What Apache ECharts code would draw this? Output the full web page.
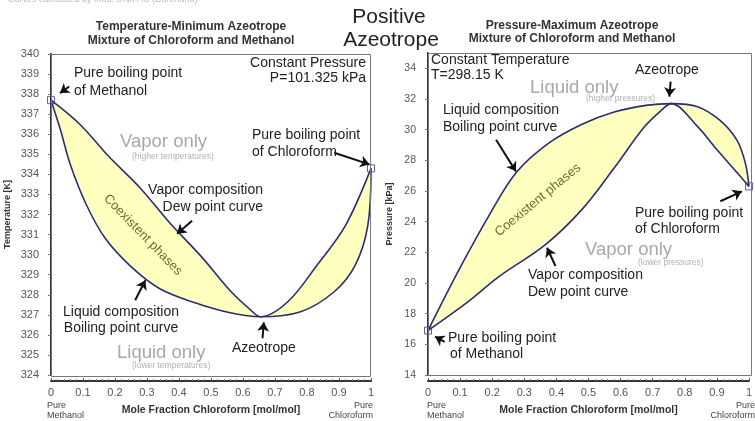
<!DOCTYPE html>
<html>
<head>
<meta charset="utf-8">
<script src="https://cdn.jsdelivr.net/npm/echarts@6/dist/echarts.min.js"></script>
<style>
  html, body { margin: 0; padding: 0; background: #fff; }
  #main { width: 755px; height: 421px; }
</style>
</head>
<body>
<div id="main"></div>
<script>
// left chart: T-x-y at constant pressure (temperature minimum azeotrope)
var dewX1 = [0, 0.09, 0.18, 0.28, 0.37, 0.47, 0.56, 0.62, 0.655, 0.74, 0.83, 0.92, 1.0];
var dewT1 = [337.7, 336.5, 334.9, 333.3, 331.6, 329.9, 328.2, 327.3, 326.9, 327.65, 329.45, 331.45, 334.3];
var bubX1 = [0, 0.03, 0.06, 0.11, 0.17, 0.25, 0.34, 0.45, 0.56, 0.655, 0.78, 0.885, 0.95, 0.99, 1.0];
var bubT1 = [337.7, 336.2, 334.5, 332.5, 330.8, 329.4, 328.3, 327.6, 327.1, 326.9, 327.15, 328.15, 329.45, 331.45, 334.3];
var pureX1 = [0, 1];
var pureT1 = [337.7, 334.3];

// right chart: P-x-y at constant temperature (pressure maximum azeotrope)
var bubX2 = [0, 0.1, 0.19, 0.275, 0.375, 0.48, 0.58, 0.685, 0.757, 0.84, 0.91, 0.963, 0.989, 1.0];
var bubP2 = [16.9, 21.0, 24.4, 27.2, 29.1, 30.35, 31.15, 31.6, 31.7, 31.5, 30.6, 29.3, 27.8, 26.3];
var dewX2 = [0, 0.12, 0.22, 0.366, 0.48, 0.58, 0.675, 0.737, 0.757, 0.84, 0.9, 0.963, 1.0];
var dewP2 = [16.9, 18.7, 20.4, 22.5, 24.8, 27.5, 30.2, 31.45, 31.7, 30.2, 28.7, 27.2, 26.3];
var pureX2 = [0, 1];
var pureP2 = [16.9, 26.3];

// axis ranges
var tRange = [324, 340, 1];
var pRange = [14, 35, 2];

// arrows [tail, tip] in data units
var arrowsLeft = [
  [[0.057, 338.38], [0.028, 338.05]],
  [[0.885, 335.08], [0.995, 334.5]],
  [[0.441, 331.69], [0.394, 331.04]],
  [[0.263, 327.73], [0.295, 328.72]],
  [[0.661, 325.83], [0.665, 326.63]]
];
var arrowsRight = [
  [[0.756, 33.13], [0.752, 32.16]],
  [[0.212, 29.34], [0.274, 27.28]],
  [[0.911, 25.33], [0.978, 25.98]],
  [[0.397, 21.11], [0.371, 22.30]],
  [[0.052, 16.16], [0.022, 16.51]]
];

var FONT = '"Liberation Sans", Arial, sans-serif';
var LINE = '#2b2d73';
var FILL = '#ffffc0';
var SMOOTH = 0.35;

function pairs(xs, ys) {
  return xs.map(function (x, i) { return [x, ys[i]]; });
}

function xAxisCfg(idx) {
  return {
    type: 'value', gridIndex: idx, min: 0, max: 1, interval: 0.1, offset: 6,
    name: 'Mole Fraction Chloroform [mol/mol]', nameLocation: 'middle', nameGap: 24,
    nameTextStyle: { fontFamily: FONT, fontWeight: 'bold', fontSize: 10.5, color: '#333' },
    axisLine: { show: true, lineStyle: { color: '#333', width: 2 } },
    axisTick: { show: true, inside: true, length: 3, lineStyle: { color: '#555' } },
    minorTick: { show: true, splitNumber: 5, length: 2, lineStyle: { color: '#777' } },
    axisLabel: { fontFamily: FONT, fontSize: 11, color: '#555', margin: 6 },
    splitLine: { show: false }
  };
}

function yAxisCfg(idx, r, name, gap, fs) {
  return {
    type: 'value', gridIndex: idx, min: r[0], max: r[1], interval: r[2], offset: 7,
    name: name, nameLocation: 'middle', nameGap: gap, nameRotate: 90,
    nameTextStyle: { fontFamily: FONT, fontWeight: 'bold', fontSize: 9, color: '#333' },
    axisLine: { show: true, lineStyle: { color: '#333', width: 2 } },
    axisTick: { show: true, length: 3, lineStyle: { color: '#777' } },
    axisLabel: { fontFamily: FONT, fontSize: fs, color: '#555', margin: 5, showMaxLabel: idx === 0 },
    splitLine: { show: false }
  };
}

function area(idx, data, color) {
  return {
    type: 'line', xAxisIndex: idx, yAxisIndex: idx, data: data,
    smooth: SMOOTH, symbol: 'none', silent: true, z: 1,
    lineStyle: { opacity: 0 },
    areaStyle: { color: color, opacity: 1, origin: 'start' }
  };
}

function curve(idx, data) {
  return {
    type: 'line', xAxisIndex: idx, yAxisIndex: idx, data: data,
    smooth: SMOOTH, symbol: 'none', silent: true, z: 3,
    lineStyle: { color: LINE, width: 1.6 }
  };
}

function ends(idx, data, arrows) {
  return {
    type: 'scatter', xAxisIndex: idx, yAxisIndex: idx, data: data,
    symbol: 'rect', symbolSize: 7, z: 4, silent: true, clip: false,
    itemStyle: { color: 'rgba(0,0,0,0)', borderColor: '#3535a0', borderWidth: 1 },
    markLine: {
      silent: true, symbol: ['none', 'arrow'], symbolSize: 9,
      lineStyle: { color: '#111', width: 2, type: 'solid' },
      label: { show: false },
      data: arrows.map(function (a) { return [{ coord: a[0] }, { coord: a[1] }]; })
    }
  };
}

function txt(x, y, s, o) {
  o = o || {};
  return {
    type: 'text', x: x, y: y, rotation: o.rot || 0, z: 50, silent: true,
    style: {
      text: s, fill: o.color || '#222',
      font: (o.bold ? 'bold ' : '') + (o.size || 14) + 'px ' + FONT,
      textAlign: o.align || 'left', align: o.align || 'left',
      textVerticalAlign: 'middle', verticalAlign: 'middle'
    }
  };
}

function frame(x, y, w, h) {
  return {
    type: 'rect', z: 40, silent: true,
    shape: { x: x + 0.5, y: y + 0.5, width: w - 1, height: h - 1 },
    style: { fill: 'none', stroke: '#777', lineWidth: 1 }
  };
}

var GREY = '#a8a8a8';
var OLIVE = '#6e6e2c';

var graphics = [
  frame(51, 54, 320, 323),
  frame(428, 53, 324, 323),
  txt(8, 0, 'Curves calculated by mod. UNIFAC (Dortmund)', { size: 9, color: '#bbb' }),
  txt(191, 27, 'Temperature-Minimum Azeotrope', { bold: true, size: 12, color: '#333', align: 'center' }),
  txt(191, 41, 'Mixture of Chloroform and Methanol', { bold: true, size: 12, color: '#333', align: 'center' }),
  txt(572, 26, 'Pressure-Maximum Azeotrope', { bold: true, size: 12, color: '#333', align: 'center' }),
  txt(572, 39, 'Mixture of Chloroform and Methanol', { bold: true, size: 12, color: '#333', align: 'center' }),
  txt(389, 17, 'Positive', { size: 21, align: 'center' }),
  txt(391, 40, 'Azeotrope', { size: 21, align: 'center' }),

  // left chart notes
  txt(74, 73, 'Pure boiling point'),
  txt(74, 91, 'of Methanol'),
  txt(366, 63, 'Constant Pressure', { align: 'right' }),
  txt(366, 78, 'P=101.325 kPa', { align: 'right' }),
  txt(120, 142, 'Vapor only', { size: 18.5, color: GREY }),
  txt(132, 157, '(higher temperatures)', { size: 8.5, color: '#b0b0b0' }),
  txt(252, 135, 'Pure boiling point'),
  txt(252, 152, 'of Chloroform'),
  txt(263, 190, 'Vapor composition', { align: 'right' }),
  txt(263, 207, 'Dew point curve', { align: 'right' }),
  txt(143, 235, 'Coexistent phases', { size: 13, color: OLIVE, align: 'center', rot: -46 * Math.PI / 180 }),
  txt(121, 312, 'Liquid composition', { align: 'center' }),
  txt(121, 328, 'Boiling point curve', { align: 'center' }),
  txt(117, 353, 'Liquid only', { size: 18.5, color: GREY }),
  txt(132, 366, '(lower temperatures)', { size: 8.5, color: '#b0b0b0' }),
  txt(232, 348, 'Azeotrope'),
  txt(47, 406, 'Pure', { size: 9, color: '#444' }),
  txt(47, 416, 'Methanol', { size: 9, color: '#444' }),
  txt(373, 406, 'Pure', { size: 9, color: '#444', align: 'right' }),
  txt(373, 416, 'Chloroform', { size: 9, color: '#444', align: 'right' }),

  // right chart notes
  txt(431, 60, 'Constant Temperature'),
  txt(431, 75, 'T=298.15 K'),
  txt(635, 70, 'Azeotrope'),
  txt(530, 88, 'Liquid only', { size: 18.5, color: GREY }),
  txt(586, 99, '(higher pressures)', { size: 8.5, color: '#b0b0b0' }),
  txt(443, 110, 'Liquid composition'),
  txt(443, 127, 'Boiling point curve'),
  txt(538, 200, 'Coexistent phases', { size: 13, color: OLIVE, align: 'center', rot: 39.4 * Math.PI / 180 }),
  txt(635, 213, 'Pure boiling point'),
  txt(635, 229, 'of Chloroform'),
  txt(585, 250, 'Vapor only', { size: 18.5, color: GREY }),
  txt(638, 263, '(lower pressures)', { size: 8.5, color: '#b0b0b0' }),
  txt(528, 275, 'Vapor composition'),
  txt(528, 292, 'Dew point curve'),
  txt(448, 338, 'Pure boiling point'),
  txt(450, 354, 'of Methanol'),
  txt(427, 406, 'Pure', { size: 9, color: '#444' }),
  txt(427, 416, 'Methanol', { size: 9, color: '#444' }),
  txt(755, 406, 'Pure', { size: 9, color: '#444', align: 'right' }),
  txt(755, 416, 'Chloroform', { size: 9, color: '#444', align: 'right' })
];

var chart = echarts.init(document.getElementById('main'), null, { renderer: 'canvas' });

var option = {
  animation: false,
  backgroundColor: '#fff',
  grid: [
    { left: 51, top: 54, width: 320, height: 323 },
    { left: 428, top: 53, width: 324, height: 323 }
  ],
  xAxis: [xAxisCfg(0), xAxisCfg(1)],
  yAxis: [
    yAxisCfg(0, tRange, 'Temperature [K]', 32, 11),
    yAxisCfg(1, pRange, 'Pressure [kPa]', 27, 10.5)
  ],
  series: [
    // left: vapour curve on top, liquid curve below
    area(0, pairs(dewX1, dewT1), FILL),
    area(0, pairs(bubX1, bubT1), '#fff'),
    curve(0, pairs(dewX1, dewT1)),
    curve(0, pairs(bubX1, bubT1)),
    ends(0, pairs(pureX1, pureT1), arrowsLeft),
    // right: liquid curve on top, vapour curve below
    area(1, pairs(bubX2, bubP2), FILL),
    area(1, pairs(dewX2, dewP2), '#fff'),
    curve(1, pairs(bubX2, bubP2)),
    curve(1, pairs(dewX2, dewP2)),
    ends(1, pairs(pureX2, pureP2), arrowsRight)
  ],
  graphic: graphics
};

chart.setOption(option);
</script>
</body>
</html>
